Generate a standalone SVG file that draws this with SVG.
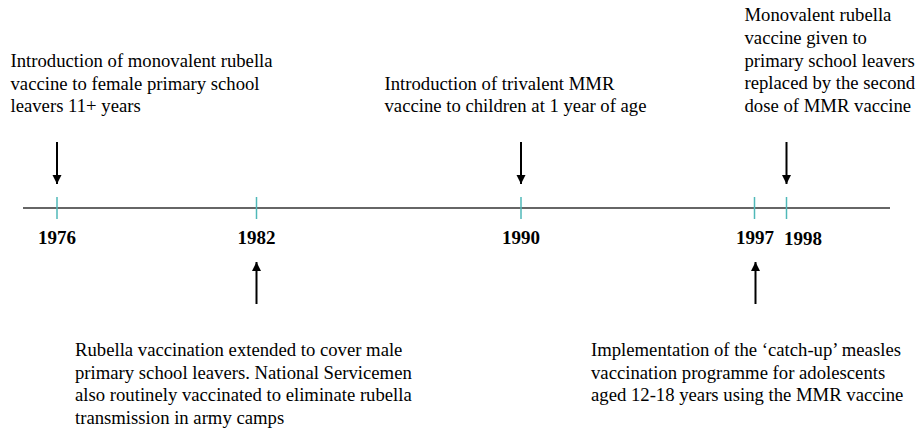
<svg xmlns="http://www.w3.org/2000/svg" width="916" height="428" viewBox="0 0 916 428">
<style>
.t{font-family:"Liberation Serif","Times New Roman",serif;font-size:18.7px;fill:#000}
.y{font-family:"Liberation Serif","Times New Roman",serif;font-size:19px;font-weight:bold;fill:#000}
.tick{stroke:#4fb8b8;stroke-width:1.5}
.arr{stroke:#000;stroke-width:2;fill:none}
</style>
<defs>
<marker id="ah" markerWidth="9" markerHeight="11" refX="9" refY="4.5" orient="auto" markerUnits="userSpaceOnUse" viewBox="0 0 9 9">
<path d="M0,0 L9,4.5 L0,9 Z" fill="#000"/>
</marker>
</defs>
<rect width="916" height="428" fill="#fff"/>
<g id="axis">
<line x1="23" y1="208" x2="890" y2="208" stroke="#333" stroke-width="1.5"/>
<line class="tick" x1="57" y1="197" x2="57" y2="219"/>
<line class="tick" x1="256.5" y1="197" x2="256.5" y2="219"/>
<line class="tick" x1="521" y1="197" x2="521" y2="219"/>
<line class="tick" x1="754.5" y1="197" x2="754.5" y2="219"/>
<line class="tick" x1="786.5" y1="197" x2="786.5" y2="219"/>
</g>
<g id="years">
<text class="y" x="57" y="244" text-anchor="middle">1976</text>
<text class="y" x="256.5" y="244" text-anchor="middle">1982</text>
<text class="y" x="521" y="244" text-anchor="middle">1990</text>
<text class="y" x="755" y="244" text-anchor="middle">1997</text>
<text class="y" x="784" y="245" text-anchor="start">1998</text>
</g>
<g id="connectors">
<line class="arr" x1="57" y1="142" x2="57" y2="184" marker-end="url(#ah)"/>
<line class="arr" x1="521" y1="142" x2="521" y2="184" marker-end="url(#ah)"/>
<line class="arr" x1="786.5" y1="142" x2="786.5" y2="184" marker-end="url(#ah)"/>
<line class="arr" x1="256.5" y1="304" x2="256.5" y2="262" marker-end="url(#ah)"/>
<line class="arr" x1="755.5" y1="304" x2="755.5" y2="262" marker-end="url(#ah)"/>
</g>
<g id="event1976">
<text class="t" x="10.5" y="67"><tspan x="10.5">Introduction of monovalent rubella</tspan><tspan x="10.5" dy="22.6">vaccine to female primary school</tspan><tspan x="10.5" dy="22.6">leavers 11+ years</tspan></text>
</g>
<g id="event1990">
<text class="t" x="384.5" y="89.6"><tspan x="384.5">Introduction of trivalent MMR</tspan><tspan x="384.5" dy="22.6">vaccine to children at 1 year of age</tspan></text>
</g>
<g id="event1998">
<text class="t" x="744.5" y="21.4"><tspan x="744.5">Monovalent rubella</tspan><tspan x="744.5" dy="22.6">vaccine given to</tspan><tspan x="744.5" dy="22.6">primary school leavers</tspan><tspan x="744.5" dy="22.6">replaced by the second</tspan><tspan x="744.5" dy="22.6">dose of MMR vaccine</tspan></text>
</g>
<g id="event1982">
<text class="t" x="75" y="356"><tspan x="75">Rubella vaccination extended to cover male</tspan><tspan x="75" dy="22.6">primary school leavers. National Servicemen</tspan><tspan x="75" dy="22.6">also routinely vaccinated to eliminate rubella</tspan><tspan x="75" dy="22.6">transmission in army camps</tspan></text>
</g>
<g id="event1997">
<text class="t" x="591" y="356"><tspan x="591">Implementation of the ‘catch-up’ measles</tspan><tspan x="591" dy="22.6">vaccination programme for adolescents</tspan><tspan x="591" dy="22.6">aged 12-18 years using the MMR vaccine</tspan></text>
</g>
</svg>
